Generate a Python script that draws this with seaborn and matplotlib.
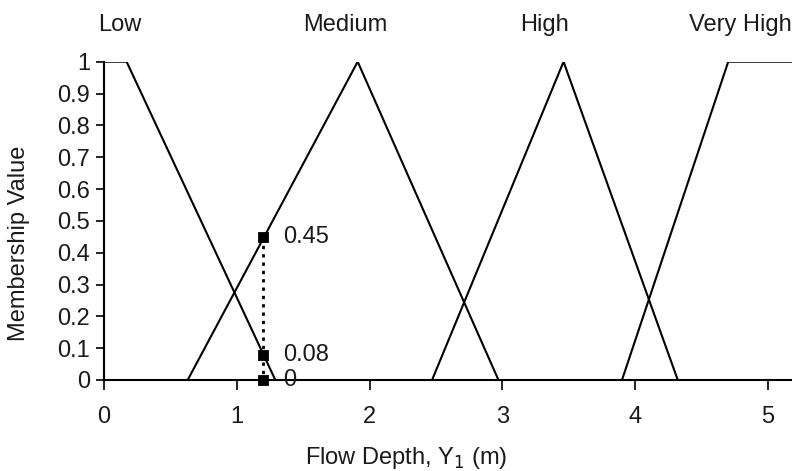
import matplotlib
matplotlib.use("Agg")
import matplotlib.pyplot as plt
import seaborn as sns
import pandas as pd

# ---- data ----
sets = ["Low", "Medium", "High", "Very High"]
low_x = [0.0, 0.17, 1.29]
low_y = [1, 1, 0]
med_x = [0.63, 1.91, 2.97]
med_y = [0, 1, 0]
high_x = [2.47, 3.46, 4.32]
high_y = [0, 1, 0]
vhigh_x = [3.90, 4.70, 5.40]
vhigh_y = [0, 1, 1]
set_label_x = [0.12, 1.82, 3.32, 4.79]

point_x = [1.2, 1.2, 1.2]
point_y = [0.45, 0.08, 0.0]
point_labels = ["0.45", "0.08", "0"]

xticks = [0, 1, 2, 3, 4, 5]
yticks = [0, 0.1, 0.2, 0.3, 0.4, 0.5, 0.6, 0.7, 0.8, 0.9, 1]
ytick_labels = ["0", "0.1", "0.2", "0.3", "0.4", "0.5", "0.6", "0.7", "0.8", "0.9", "1"]

rows = []
for name, xs, ys in zip(sets, [low_x, med_x, high_x, vhigh_x], [low_y, med_y, high_y, vhigh_y]):
    for i, (xv, yv) in enumerate(zip(xs, ys)):
        rows.append({"set": name, "order": i, "x": xv, "y": yv})
df = pd.DataFrame(rows)
pts = pd.DataFrame({"x": point_x, "y": point_y, "label": point_labels})

sns.set_theme(style="white")
plt.rcParams["font.family"] = ["Liberation Sans", "DejaVu Sans"]
ink = "#1a1a1a"

fig = plt.figure(figsize=(7.92, 4.71), dpi=100)
ax = fig.add_axes([104 / 792, 91 / 471, 688 / 792, 318.3 / 471])

sns.lineplot(data=df, x="x", y="y", units="set", estimator=None, sort=False,
             color="black", linewidth=1.5, ax=ax, clip_on=False, legend=False)
# Very High flat part must be clipped at the right edge
for ln in ax.get_lines():
    ln.set_clip_on(True)

ax.plot([point_x[0], point_x[0]], [point_y[0], point_y[-1]], linestyle=(0, (1.2, 1.8)),
        color="black", linewidth=2.0, zorder=3)
sns.scatterplot(data=pts, x="x", y="y", marker="s", s=55, color="black",
                edgecolor="black", ax=ax, zorder=4, clip_on=False, legend=False)
for xv, yv, lab in zip(point_x, point_y, point_labels):
    ax.text(xv + 0.15, yv, lab, fontsize=17, color=ink, va="center", ha="left")

for name, lx in zip(sets, set_label_x):
    ax.text(lx, 1.115, name, fontsize=17, color=ink, ha="center", va="center")

ax.set_xlim(0, 5.18)
ax.set_ylim(0, 1)
ax.set_xticks(xticks)
ax.set_xticklabels([str(t) for t in xticks])
ax.set_yticks(yticks)
ax.set_yticklabels(ytick_labels)

ax.set_xlabel("Flow Depth, Y$_1$ (m)", fontsize=17, color=ink)
ax.set_ylabel("Membership Value", fontsize=17, color=ink)
ax.xaxis.label.set_va("center")
ax.yaxis.label.set_va("center")
ax.xaxis.set_label_coords(0.44, -0.245)
ax.yaxis.set_label_coords(-0.1235, 0.43)

for s in ["top", "right"]:
    ax.spines[s].set_visible(False)
for s in ["left", "bottom"]:
    ax.spines[s].set_color("black")
    ax.spines[s].set_linewidth(1.5)
ax.spines["left"].set_bounds(0, 1)

ax.tick_params(axis="x", direction="out", length=7, width=1.2, colors="black",
               labelcolor=ink, labelsize=17, pad=12, bottom=True)
ax.tick_params(axis="y", direction="out", length=6, width=1.2, colors="black",
               labelcolor=ink, labelsize=17, pad=4, left=True)
ax.grid(False)

fig.savefig("out.png", dpi=100)
